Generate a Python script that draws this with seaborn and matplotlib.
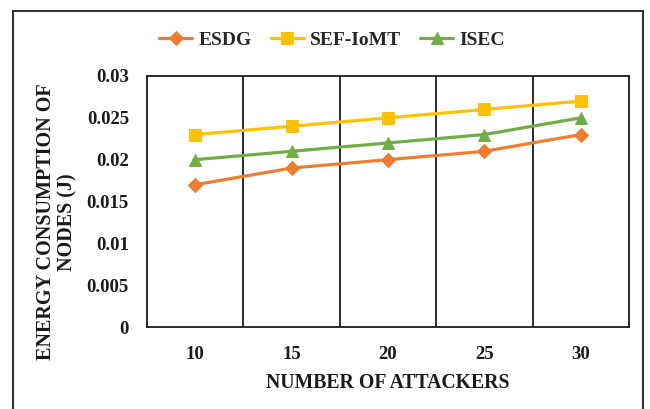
import matplotlib
matplotlib.use("Agg")
import matplotlib.pyplot as plt
import seaborn as sns
import pandas as pd
from matplotlib.patches import Rectangle

attackers = ["10", "15", "20", "25", "30"]
esdg = [0.017, 0.019, 0.020, 0.021, 0.023]
sef_iomt = [0.023, 0.024, 0.025, 0.026, 0.027]
isec = [0.020, 0.021, 0.022, 0.023, 0.025]
y_ticks = [0, 0.005, 0.01, 0.015, 0.02, 0.025, 0.03]
y_tick_labels = ["0", "0.005", "0.01", "0.015", "0.02", "0.025", "0.03"]

series = {"ESDG": esdg, "SEF-IoMT": sef_iomt, "ISEC": isec}
colors = {"ESDG": "#ED7D31", "SEF-IoMT": "#FFC000", "ISEC": "#70AD47"}
markers = {"ESDG": "D", "SEF-IoMT": "s", "ISEC": "^"}
marker_sizes = {"ESDG": 7, "SEF-IoMT": 8.5, "ISEC": 9}

rows = []
for name, vals in series.items():
    for i, v in enumerate(vals):
        rows.append({"pos": i, "value": v, "method": name})
df = pd.DataFrame(rows)

sns.set_theme(style="white")
plt.rcParams["font.family"] = ["Liberation Serif", "DejaVu Serif"]
plt.rcParams["font.weight"] = "bold"

W, H = 650, 409
fig = plt.figure(figsize=(W / 100, H / 100), dpi=100)
fig.patch.set_facecolor("white")

left, right, top, bottom = 147, 629, 76, 327
ax = fig.add_axes([left / W, 1 - bottom / H, (right - left) / W, (bottom - top) / H])

for name in series:
    sub = df[df["method"] == name]
    sns.lineplot(data=sub, x="pos", y="value", ax=ax, color=colors[name],
                 marker=markers[name], markersize=marker_sizes[name],
                 markeredgecolor=colors[name], linewidth=2.3, label=name,
                 zorder=3)

ax.set_xlim(-0.5, len(attackers) - 0.5)
ax.set_ylim(0, 0.03)
ax.set_xticks(range(len(attackers)))
ax.set_xticklabels(attackers)
ax.set_yticks(y_ticks)
ax.set_yticklabels(y_tick_labels)
ax.tick_params(axis="both", length=0, labelsize=13.5)
ax.tick_params(axis="x", pad=14)
ax.tick_params(axis="y", pad=13)
for lbl in ax.get_xticklabels() + ax.get_yticklabels():
    lbl.set_fontweight("bold")
    lbl.set_color("#1a1a1a")

# vertical separators between attacker groups
for b in range(1, len(attackers)):
    ax.axvline(b - 0.5, color="#1a1a1a", linewidth=1.3, zorder=1)

for sp in ax.spines.values():
    sp.set_visible(True)
    sp.set_color("#1a1a1a")
    sp.set_linewidth(1.3)

ax.set_xlabel("NUMBER OF ATTACKERS", fontsize=14.2, fontweight="bold",
              color="#1a1a1a", labelpad=7)
ax.set_ylabel("ENERGY CONSUMPTION OF\nNODES (J)", fontsize=14.5,
              fontweight="bold", color="#1a1a1a", linespacing=1.08)
ax.yaxis.label.set_va("center")
ax.yaxis.set_label_coords((57 - left) / (right - left),
                          1 - (222 - top) / (bottom - top))

handles, labels = ax.get_legend_handles_labels()
ax.legend(handles, labels, loc="center", bbox_to_anchor=(332 / W, 1 - 40 / H),
          bbox_transform=fig.transFigure, ncol=3, frameon=False,
          prop={"size": 14, "weight": "bold"}, handlelength=1.7,
          columnspacing=1.0, handletextpad=0.3)

# outer chart frame
fig.patches.append(Rectangle((13 / W, -0.05), (643 - 13) / W, 1.05 - 11 / H,
                             transform=fig.transFigure, fill=False,
                             edgecolor="#333333", linewidth=1.5))

fig.savefig("out.png", dpi=100)
